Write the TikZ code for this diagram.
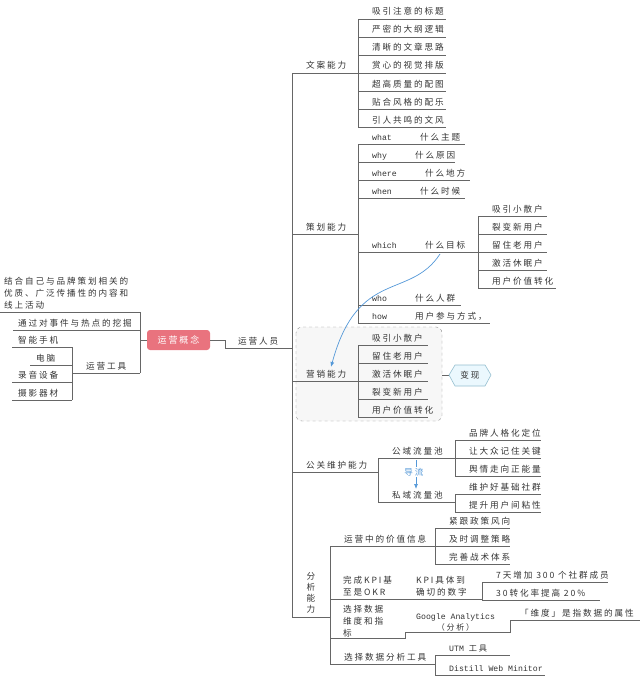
\documentclass[tikz,border=0pt]{standalone}
\usepackage{fontspec}
\setmainfont{Noto Sans CJK SC}[LetterSpace=22]
\newfontfamily\monof{Liberation Mono}
\usetikzlibrary{arrows.meta}
\tikzset{
 ln/.style={draw=black!60,line width=0.7pt},
 lb/.style={anchor=base west,inner sep=0,font=\fontsize{8.6}{10.5}\selectfont,text=black!80},
 ml/.style={anchor=south west,inner sep=0,align=left,font=\fontsize{8.6}{12}\selectfont,text=black!80},
 blu/.style={draw=cyan!60!blue!70,line width=0.7pt,-{Latex[length=5pt,width=4pt]}},
}
\newcommand\lab[4]{\node[lb] (#1) at (#2,#3-4) {#4};}
\newcommand\hl[3]{\draw[ln] (#1,#3)--(#2,#3);}
\newcommand\vl[3]{\draw[ln] (#1,#2)--(#1,#3);}
\begin{document}
\begin{tikzpicture}[x=1pt,y=-1pt]
\useasboundingbox (0,0) rectangle (640,685);
% dashed box
\draw[draw=black!45,dashed,rounded corners=6pt,fill=black!3] (296,327) rectangle (442,421);
% left side
\hl{0}{140}{312}\hl{13}{140}{330}\vl{140}{312}{373}\hl{72}{140}{373}\hl{140}{147}{340}
\node[ml] (t0) at (4,309) {结合自己与品牌策划相关的\\优质、广泛传播性的内容和\\线上活动};
\lab{t1}{18}{330}{通过对事件与热点的挖掘}
\lab{t2}{86}{373}{运营工具}
\vl{72}{347}{400}
\hl{12}{72}{347}\hl{30}{72}{365}\hl{12}{72}{382}\hl{12}{72}{400}
\lab{t3}{18}{347}{智能手机}\lab{t4}{36}{365}{电脑}\lab{t5}{18}{382}{录音设备}\lab{t6}{18}{400}{摄影器材}
% root
\node[fill={rgb,255:red,233;green,115;blue,126},rounded corners=3pt,minimum width=63pt,minimum height=20pt,text=white,font=\fontsize{9}{10}\selectfont] (root) at (178.5,340) {运营概念};
\draw[ln] (210,340)--(225,340)--(225,348)--(292,348);
\lab{r0}{238}{348}{运营人员}
\vl{292}{73}{617}
% 文案能力
\hl{292}{358}{73}\lab{a0}{306}{73}{文案能力}
\vl{358}{19}{127}
\foreach \y/\t [count=\i] in {19/吸引注意的标题,37/严密的大纲逻辑,55/清晰的文章思路,73/赏心的视觉排版,91/超高质量的配图,109/贴合风格的配乐,127/引人共鸣的文风}{
 \hl{358}{446}{\y}\node[lb] (a\i) at (372,\y-4) {\t};}
% 策划能力
\hl{292}{358}{234}\lab{b0}{306}{234}{策划能力}
\vl{358}{144}{323}
\foreach \y/\e/\c/\xe/\xc [count=\i] in {144/what/什么主题/465/420,162/why/什么原因/455/415,180/where/什么地方/470/425,198/when/什么时候/465/420,252/which/什么目标/478/425,305/who/什么人群/461/415,323/how/用户参与方式，/490/415}{
 \hl{358}{\xe}{\y}
 \node[lb,font=\monof\fontsize{8.2}{9}\selectfont] (be\i) at (372,\y-4) {\e};
 \node[lb] (bc\i) at (\xc,\y-4) {\c};}
\vl{478}{216}{288}
\foreach \y/\t/\xe [count=\i] in {216/吸引小散户/547,234/裂变新用户/547,252/留住老用户/547,270/激活休眠户/547,288/用户价值转化/556}{
 \hl{478}{\xe}{\y}\node[lb] (w\i) at (492,\y-4) {\t};}
% 营销能力
\hl{292}{358}{381}\lab{c0}{306}{381}{营销能力}
\vl{358}{345}{417}
\foreach \y/\t [count=\i] in {345/吸引小散户,363/留住老用户,381/激活休眠户,399/裂变新用户,417/用户价值转化}{
 \hl{358}{428}{\y}\node[lb] (c\i) at (372,\y-4) {\t};}
\hl{442}{449}{375}
\draw[draw=black!40!cyan!50,fill=cyan!8,line width=0.6pt] (449,375)--(455,365)--(485,365)--(491,375)--(485,386)--(455,386)--cycle;
\node[font=\fontsize{8.6}{10}\selectfont,text=black!80] (bx) at (470,375.5) {变现};
\draw[blu] (440,254) .. controls (410,300) and (358,268) .. (331,367);
% 公关维护能力
\hl{292}{378}{472}\lab{d0}{306}{472}{公关维护能力}
\vl{378}{458}{502}
\hl{378}{455}{458}\hl{378}{455}{502}
\lab{d1}{392}{458}{公域流量池}\lab{d2}{392}{502}{私域流量池}
\draw[blu] (416,460)--(416,489);
\node[font=\fontsize{8.6}{10}\selectfont,text=cyan!60!blue!70,fill=white,inner sep=1pt] (dl) at (414,472) {导流};
\vl{455}{440}{476}
\foreach \y/\t [count=\i] in {440/品牌人格化定位,458/让大众记住关键,476/舆情走向正能量}{
 \hl{455}{541}{\y}\node[lb] (e\i) at (469,\y-4) {\t};}
\vl{455}{494}{512}
\foreach \y/\t [count=\i] in {494/维护好基础社群,512/提升用户间粘性}{
 \hl{455}{541}{\y}\node[lb] (f\i) at (469,\y-4) {\t};}
% 分析能力
\hl{292}{330}{617}
\node[anchor=center,align=center,inner sep=0,font=\fontsize{8.6}{11}\selectfont,text=black!80] (g0) at (311,593) {分\\析\\能\\力};
\vl{330}{546}{664}
\hl{330}{435}{546}\lab{g1}{344}{546}{运营中的价值信息}
\vl{435}{528}{564}
\foreach \y/\t [count=\i] in {528/紧跟政策风向,546/及时调整策略,564/完善战术体系}{
 \hl{435}{510}{\y}\node[lb] (h\i) at (449,\y-4) {\t};}
\hl{330}{482}{599}
\node[ml] (g2) at (343,596) {完成KPI基\\至是OKR};
\node[ml] (g3) at (416,596) {KPI具体到\\确切的数字};
\vl{482}{582}{600}
\hl{482}{608}{582}\hl{482}{600}{600}
\lab{k1}{496}{582}{7天增加 300 个社群成员}\lab{k2}{496}{600}{30转化率提高 20\%}
\draw[ln] (330,638)--(405,638)--(405,632)--(510,632)--(510,620)--(640,620);
\node[ml] (g4) at (343,637) {选择数据\\维度和指\\标};
\node[anchor=south west,inner sep=0,align=center,font=\fontsize{8}{11}\selectfont,text=black!80] (g5) at (416,631) {{\monof\fontsize{8.2}{11}\selectfont Google Analytics}\\（分析）};
\lab{m1}{520}{620}{「维度」是指数据的属性}
\hl{330}{435}{664}\lab{g6}{344}{664}{选择数据分析工具}
\vl{435}{655}{675}
\hl{435}{510}{655}\hl{435}{545}{675}
\node[lb,font=\monof\fontsize{8.2}{9}\selectfont] (u1) at (449,651) {UTM {\rmfamily 工具}};
\node[lb,font=\monof\fontsize{8.2}{9}\selectfont] (u2) at (449,671) {Distill Web Minitor};
\end{tikzpicture}
\end{document}
